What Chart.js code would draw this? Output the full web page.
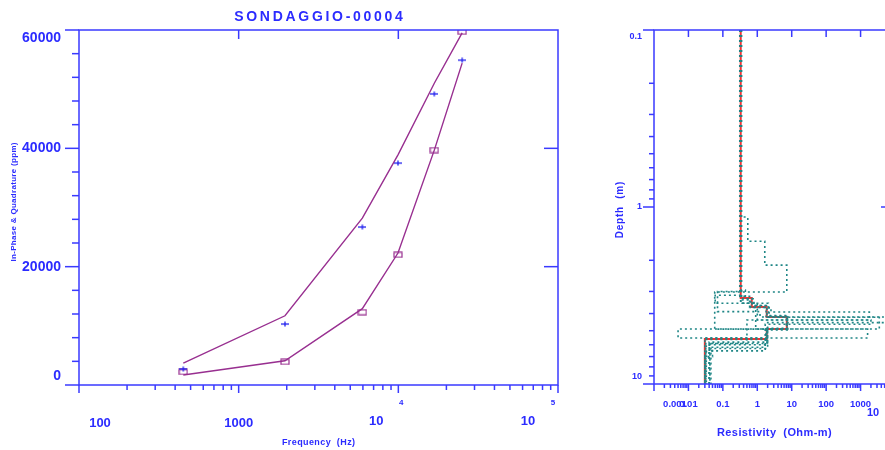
<!DOCTYPE html>
<html>
<head>
<meta charset="utf-8">
<script src="https://cdn.jsdelivr.net/npm/chart.js@4"></script>
<style>
  html, body { margin: 0; padding: 0; background: #fff; width: 885px; height: 450px; overflow: hidden; position: relative; }
  #freq-chart { position: absolute; left: 0; top: 0; }
  #depth-chart { position: absolute; left: 590px; top: 0; }
</style>
</head>
<body>
<canvas id="freq-chart" width="590" height="450"></canvas>
<canvas id="depth-chart" width="310" height="450"></canvas>
<script>
// ---- left panel: in-phase & quadrature vs frequency ----
const freqHz = [450, 1950, 5950, 9950, 16800, 25100];
const obsSquare = [2200, 3900, 12300, 22000, 39700, 59700];
const obsPlus = [2700, 10300, 26700, 37500, 49200, 54900];
const fitUpper = [3700, 11700, 28200, 38900, 51000, 59500];
const fitLower = [1700, 4100, 12900, 22300, 39700, 54400];

const ppmTicks = [0, 20000, 40000, 60000];
const ppmTickText = ['0', '20000', '40000', '60000'];
const ppmMinorStep = 4000;
const freqTicks = [100, 1000, 10000, 100000];
const freqTickText = ['100', '1000', '10', '10'];
const freqTickExp = ['', '', '4', '5'];

// ---- right panel: resistivity vs depth ----
const bestRes = [0.33, 0.69, 1.88, 7.2, 1.88, 0.030];
const bestTop = [0.1, 3.27, 3.67, 4.18, 4.89, 5.57];

const eq1Res = [0.33, 0.53, 1.65, 7.2, 0.058, 1.9, 0.04];
const eq1Top = [0.1, 1.14, 1.56, 2.13, 3.02, 4.9, 5.8];
const eq2Res = [0.32, 0.45, 0.6, 2.5, 1800, 0.5, 0.045];
const eq2Top = [0.1, 2.95, 3.3, 3.7, 3.92, 4.35, 5.9];
const eq3Res = [0.34, 0.07, 1.2, 10000, 2.0, 0.033];
const eq3Top = [0.1, 3.0, 3.9, 4.18, 4.5, 6.0];
const eq4Res = [0.33, 0.8, 2.2, 3500, 0.005, 1.7, 0.04];
const eq4Top = [0.1, 3.3, 3.6, 4.2, 4.89, 5.5, 6.5];
const eq5Res = [0.33, 0.9, 1600, 0.03];
const eq5Top = [0.1, 3.5, 4.89, 5.5];
const eq6Res = [0.33, 0.06, 2.1, 7.5, 1.9, 0.04, 0.03];
const eq6Top = [0.1, 3.15, 3.5, 4.1, 4.85, 5.9, 6.6];
const eq7Res = [0.31, 0.7, 1.9, 7.0, 1.8, 0.032];
const eq7Top = [0.1, 3.2, 3.6, 4.2, 4.9, 5.6];
const eq8Res = [0.35, 0.65, 1.8, 7.4, 2.0, 0.05, 0.03];
const eq8Top = [0.1, 3.35, 3.7, 4.15, 4.95, 6.3, 7.0];
const eq9Res = [0.33, 1.0, 2000, 1.7, 0.042];
const eq9Top = [0.1, 3.5, 4.35, 4.6, 6.2];
const maxDepth = 10;

const depthTicks = [0.1, 1, 10];
const depthTickText = ['0.1', '1', '10'];
const resTicks = [0.001, 0.01, 0.1, 1, 10, 100, 1000, 10000];
const resTickText = ['0.001', '0.01', '0.1', '1', '10', '100', '1000', '10'];
const resTickExp = ['', '', '', '', '', '', '', '4'];

const BLUE = '#3a3aff';
const TEXT_BLUE = '#2b2bff';
const PURPLE = '#982f90';
const TEAL = '#1f8686';
const RED = '#ee3434';
const FONT = '"Liberation Sans", Arial, sans-serif';

function line(ctx, x1, y1, x2, y2) {
  ctx.beginPath(); ctx.moveTo(x1, y1); ctx.lineTo(x2, y2); ctx.stroke();
}

// draws text centered on cx with extra letter spacing
function spacedText(ctx, text, cx, cy, spacing) {
  const chars = [...text];
  const widths = chars.map(c => ctx.measureText(c).width);
  const total = widths.reduce((s, w) => s + w, 0) + spacing * (chars.length - 1);
  let x = cx - total / 2;
  ctx.textAlign = 'left';
  chars.forEach((c, i) => { ctx.fillText(c, x, cy); x += widths[i] + spacing; });
}

function logMinors(min, max) {
  const out = [];
  for (let d = min; d < max * 0.999; d *= 10)
    for (let k = 2; k <= 9; k++) out.push(d * k);
  return out;
}

const clamp = (v, lo, hi) => Math.max(lo, Math.min(hi, v));

function boxMark() {
  const c = document.createElement('canvas');
  c.width = 10; c.height = 7;
  const g = c.getContext('2d');
  g.strokeStyle = PURPLE; g.lineWidth = 1.2;
  g.strokeRect(1, 1, 8, 5);
  return c;
}
function plusMark() {
  const c = document.createElement('canvas');
  c.width = 8; c.height = 6;
  const g = c.getContext('2d');
  g.strokeStyle = '#2020ee'; g.lineWidth = 1.3;
  line(g, 0, 3, 8, 3);
  line(g, 4, 0.5, 4, 5.5);
  return c;
}

const pairs = (xs, ys) => xs.map((v, i) => ({ x: v, y: ys[i] }));
// step profile: one point per layer top, plus the bottom of the last layer
const profile = (res, top) => res.map((r, i) => ({ x: r, y: top[i] })).concat([{ x: res[res.length - 1], y: maxDepth }]);

// ---- frame / ticks / labels for the left panel ----
const freqFrame = {
  id: 'freqFrame',
  afterDatasetsDraw(chart) {
    const { ctx, chartArea: a, scales: { x, y } } = chart;
    ctx.save();
    ctx.strokeStyle = BLUE; ctx.lineWidth = 1.5;
    ctx.strokeRect(a.left, a.top, a.right - a.left, a.bottom - a.top);

    ppmTicks.forEach(v => {
      const py = y.getPixelForValue(v);
      line(ctx, a.left - 14, py, a.left, py);
      if (v > ppmTicks[0] && v < ppmTicks[ppmTicks.length - 1]) line(ctx, a.right - 14, py, a.right, py);
    });
    for (let v = ppmMinorStep; v < ppmTicks[ppmTicks.length - 1]; v += ppmMinorStep) {
      if (ppmTicks.includes(v)) continue;
      const py = y.getPixelForValue(v);
      line(ctx, a.left - 7, py, a.left, py);
    }
    freqTicks.forEach((v, i) => {
      const px = x.getPixelForValue(v);
      line(ctx, px, a.bottom, px, a.bottom + 8);
      if (i > 0 && i < freqTicks.length - 1) line(ctx, px, a.top, px, a.top + 9);
    });
    logMinors(freqTicks[0], freqTicks[freqTicks.length - 1]).forEach(v => {
      const px = x.getPixelForValue(v);
      line(ctx, px, a.bottom, px, a.bottom + 5);
    });

    ctx.fillStyle = TEXT_BLUE;
    ctx.textBaseline = 'middle';
    ctx.font = `bold 14px ${FONT}`;
    ctx.textAlign = 'right';
    ppmTicks.forEach((v, i) => {
      const py = clamp(y.getPixelForValue(v), a.top + 8, a.bottom - 9);
      ctx.fillText(ppmTickText[i], a.left - 18, py);
    });

    freqTicks.forEach((v, i) => {
      const px = x.getPixelForValue(v);
      if (!freqTickExp[i]) {
        ctx.font = `bold 13px ${FONT}`;
        ctx.textAlign = 'center';
        ctx.fillText(freqTickText[i], clamp(px, a.left + 21, a.right - 20), a.bottom + 38);
      } else {
        const ex = Math.min(px + 3, a.right - 5);
        ctx.font = `bold 13px ${FONT}`;
        ctx.textAlign = 'center';
        ctx.fillText(freqTickText[i], ex - 25, a.bottom + 36);
        ctx.font = `bold 8px ${FONT}`;
        ctx.fillText(freqTickExp[i], ex, a.bottom + 18);
      }
    });

    ctx.font = `bold 14px ${FONT}`;
    spacedText(ctx, 'SONDAGGIO-00004', (a.left + a.right) / 2, 17, 2.7);

    ctx.font = `bold 9px ${FONT}`;
    spacedText(ctx, 'Frequency  (Hz)', (a.left + a.right) / 2, 443, 0.4);

    ctx.save();
    ctx.translate(14, 202);
    ctx.rotate(-Math.PI / 2);
    ctx.font = `bold 8px ${FONT}`;
    spacedText(ctx, 'In-Phase & Quadrature (ppm)', 0, 0, 0.3);
    ctx.restore();
    ctx.restore();
  }
};

// ---- frame / ticks / labels for the right panel ----
const depthFrame = {
  id: 'depthFrame',
  afterDatasetsDraw(chart) {
    const { ctx, chartArea: a, scales: { x, y } } = chart;
    ctx.save();
    ctx.strokeStyle = BLUE; ctx.lineWidth = 1.5;
    ctx.strokeRect(a.left, a.top, a.right - a.left, a.bottom - a.top);

    depthTicks.forEach((v, i) => {
      const py = y.getPixelForValue(v);
      line(ctx, a.left - 11, py, a.left, py);
      if (i > 0 && i < depthTicks.length - 1) line(ctx, a.right - 14, py, a.right, py);
    });
    logMinors(depthTicks[0], depthTicks[depthTicks.length - 1]).forEach(v => {
      const py = y.getPixelForValue(v);
      line(ctx, a.left - 5, py, a.left, py);
    });
    resTicks.forEach((v, i) => {
      const px = x.getPixelForValue(v);
      line(ctx, px, a.bottom, px, a.bottom + 7);
      if (i > 0 && i < resTicks.length - 1) line(ctx, px, a.top, px, a.top + 7);
    });
    logMinors(resTicks[0], resTicks[resTicks.length - 1]).forEach(v => {
      const px = x.getPixelForValue(v);
      line(ctx, px, a.bottom, px, a.bottom + 4);
    });

    ctx.fillStyle = TEXT_BLUE;
    ctx.textBaseline = 'middle';
    ctx.font = `bold 9px ${FONT}`;
    ctx.textAlign = 'right';
    depthTicks.forEach((v, i) => {
      const py = clamp(y.getPixelForValue(v), a.top + 7, a.bottom - 7);
      ctx.fillText(depthTickText[i], a.left - 12, py);
    });

    resTicks.forEach((v, i) => {
      const px = x.getPixelForValue(v);
      ctx.textAlign = 'center';
      if (!resTickExp[i]) {
        ctx.font = `bold 9.5px ${FONT}`;
        ctx.fillText(resTickText[i], Math.max(px, a.left + 21), a.bottom + 20);
      } else {
        ctx.font = `bold 11px ${FONT}`;
        ctx.fillText(resTickText[i], px - 22, a.bottom + 29);
        ctx.font = `bold 8px ${FONT}`;
        ctx.fillText(resTickExp[i], px + 3, a.bottom + 11);
      }
    });

    ctx.font = `bold 11px ${FONT}`;
    spacedText(ctx, 'Resistivity  (Ohm-m)', x.getPixelForValue(1) + 17, 433, 0.4);

    ctx.save();
    ctx.translate(30, 210);
    ctx.rotate(-Math.PI / 2);
    ctx.font = `bold 10px ${FONT}`;
    spacedText(ctx, 'Depth  (m)', 0, 0, 0.8);
    ctx.restore();
    ctx.restore();
  }
};

new Chart(document.getElementById('freq-chart'), {
  type: 'scatter',
  data: {
    datasets: [
      { data: pairs(freqHz, obsPlus), pointStyle: plusMark(), pointRadius: 4 },
      { data: pairs(freqHz, obsSquare), pointStyle: boxMark(), pointRadius: 4 },
      { data: pairs(freqHz, fitUpper), showLine: true, pointRadius: 0, borderColor: PURPLE, borderWidth: 1.4 },
      { data: pairs(freqHz, fitLower), showLine: true, pointRadius: 0, borderColor: PURPLE, borderWidth: 1.4 }
    ]
  },
  options: {
    responsive: false,
    animation: false,
    layout: { padding: { left: 79, right: 32, top: 30, bottom: 65 } },
    plugins: { legend: { display: false }, tooltip: { enabled: false } },
    scales: {
      x: { type: 'logarithmic', min: 100, max: 100000, display: false },
      y: { type: 'linear', min: 0, max: 60000, display: false }
    }
  },
  plugins: [freqFrame]
});

const eqModels = [
  [eq1Res, eq1Top], [eq2Res, eq2Top], [eq3Res, eq3Top], [eq4Res, eq4Top], [eq5Res, eq5Top],
  [eq6Res, eq6Top], [eq7Res, eq7Top], [eq8Res, eq8Top], [eq9Res, eq9Top]
];

new Chart(document.getElementById('depth-chart'), {
  type: 'scatter',
  data: {
    datasets: eqModels.map(([r, t]) => ({
      data: profile(r, t), showLine: true, stepped: 'after', pointRadius: 0,
      borderColor: TEAL, borderWidth: 1.6, borderDash: [2, 3]
    })).concat([{
      data: profile(bestRes, bestTop), showLine: true, stepped: 'after', pointRadius: 0,
      borderColor: RED, borderWidth: 2
    }])
  },
  options: {
    responsive: false,
    animation: false,
    layout: { padding: { left: 64, right: 5, top: 30, bottom: 66 } },
    plugins: { legend: { display: false }, tooltip: { enabled: false } },
    scales: {
      x: { type: 'logarithmic', min: 0.001, max: 10000, display: false },
      y: { type: 'logarithmic', min: 0.1, max: 10, reverse: true, display: false }
    }
  },
  plugins: [depthFrame]
});
</script>
</body>
</html>
